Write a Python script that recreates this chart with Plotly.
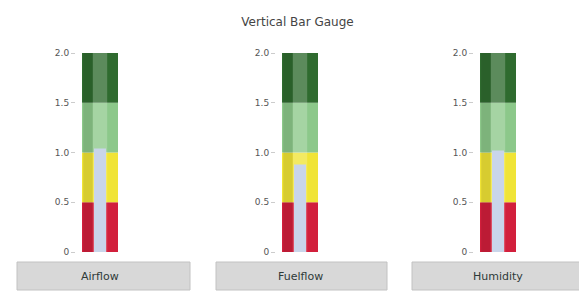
import plotly.graph_objects as go

# ---- data ----
gauge_names = ["Airflow", "Fuelflow", "Humidity"]
gauge_values = [1.04, 0.88, 1.02]
band_lows = [0.0, 0.5, 1.0, 1.5]
band_highs = [0.5, 1.0, 1.5, 2.0]
band_colors = ["#d21f3c", "#f0e436", "#8cc88a", "#2f6b2f"]
tick_vals = [0, 0.5, 1.0, 1.5, 2.0]
tick_text = ["0", "0.5", "1.0", "1.5", "2.0"]

# page body has an 8px margin, so the figure is sized/placed to compensate
W, H = 579, 289
ML, MR, MT, MB = 0, 0, 45, 45
centers_px = [92, 292, 490]
half_px = 24
box_px = [(9, 182), (208, 379), (404, 578)]
box_y_px = (254, 282)

fig = go.Figure()
plot_h = H - MT - MB

for i, name in enumerate(gauge_names):
    xa = "x" if i == 0 else f"x{i+1}"
    ya = "y" if i == 0 else f"y{i+1}"
    for lo, hi, col in zip(band_lows, band_highs, band_colors):
        fig.add_trace(go.Bar(x=[0], y=[hi - lo], base=[lo], width=0.75,
                             marker=dict(color=col, line=dict(width=0)),
                             xaxis=xa, yaxis=ya, showlegend=False, hoverinfo="skip"))
    # cylinder shading: darker left strip, lighter centre
    fig.add_trace(go.Bar(x=[-0.25], y=[band_highs[-1]], base=[0], width=0.2,
                         marker=dict(color="rgba(0,0,0,0.10)", line=dict(width=0)),
                         xaxis=xa, yaxis=ya, showlegend=False, hoverinfo="skip"))
    fig.add_trace(go.Bar(x=[0], y=[band_highs[-1]], base=[0], width=0.3,
                         marker=dict(color="rgba(255,255,255,0.22)", line=dict(width=0)),
                         xaxis=xa, yaxis=ya, showlegend=False, hoverinfo="skip"))
    fig.add_trace(go.Bar(x=[0], y=[gauge_values[i]], base=[0], width=0.25,
                         marker=dict(color="#c9d5ea", line=dict(width=0)),
                         xaxis=xa, yaxis=ya, showlegend=False,
                         hovertemplate=name + ": %{y}<extra></extra>"))
    c = centers_px[i]
    dom = [(c - half_px) / W, (c + half_px) / W]
    fig.layout[("xaxis" if i == 0 else f"xaxis{i+1}")] = dict(
        domain=dom, range=[-0.5, 0.5], visible=False, fixedrange=True, anchor=ya)
    fig.layout[("yaxis" if i == 0 else f"yaxis{i+1}")] = dict(
        domain=[0, 1], range=[0, 2.0], anchor=xa, tickvals=tick_vals, ticktext=tick_text,
        ticks="outside", ticklen=4, tickcolor="#cccccc", showgrid=False, zeroline=False,
        showline=False, tickfont=dict(size=9, color="#555555", family="DejaVu Sans"),
        fixedrange=True)
    x0, x1 = box_px[i]
    yb0 = (H - MB - box_y_px[0]) / plot_h
    yb1 = (H - MB - box_y_px[1]) / plot_h
    fig.add_shape(type="rect", xref="paper", yref="paper", x0=x0 / W, x1=x1 / W,
                  y0=yb1, y1=yb0, fillcolor="#d8d8d8", line=dict(color="#c2c2c2", width=1))
    fig.add_annotation(text=name, xref="paper", yref="paper", x=c / W,
                       y=(yb0 + yb1) / 2, xanchor="center", yanchor="middle",
                       showarrow=False,
                       font=dict(size=11, color="#2f3a38", family="DejaVu Sans"))

fig.update_layout(
    width=W, height=H, margin=dict(l=ML, r=MR, t=MT, b=MB),
    paper_bgcolor="white", plot_bgcolor="white", barmode="overlay",
    title=dict(text="Vertical Bar Gauge", x=0.5, xanchor="center", y=1 - 14 / H,
               yanchor="middle", font=dict(size=12, color="#444444", family="DejaVu Sans")),
)

fig.write_html("out.html")
